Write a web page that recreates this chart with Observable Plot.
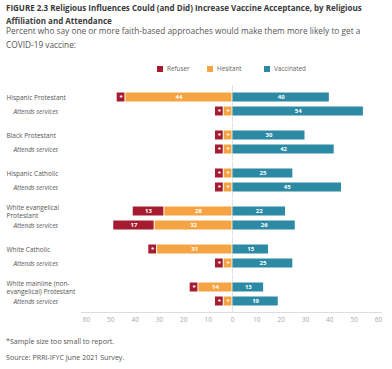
<!DOCTYPE html>
<html><head><meta charset="utf-8">
<script src="https://cdn.jsdelivr.net/npm/d3@7"></script>
<script src="https://cdn.jsdelivr.net/npm/@observablehq/plot@0.6"></script>
<style>
body{margin:0;background:#fff;font-family:"Open Sans",sans-serif;}
#wrap{position:relative;width:392px;height:369px;overflow:hidden;background:#fff}
.title{position:absolute;left:6px;top:1px;width:386px;font-weight:700;font-size:8px;line-height:13px;color:#3a3a3a;white-space:nowrap}
.sub{position:absolute;left:6px;top:24px;width:386px;font-size:8.3px;line-height:14px;color:#555;white-space:nowrap}
.legend{position:absolute;top:64px;left:0;width:392px;height:12px;font-size:6.3px;color:#666}
.legend span{position:absolute;top:0;line-height:10px}
.legend i{position:absolute;top:2px;width:6px;height:6px}
.foot{position:absolute;left:6px;font-size:7.1px;line-height:10px;color:#555;white-space:nowrap}
#chart{position:absolute;left:0;top:80px}
</style></head>
<body>
<div id="wrap">
  <div class="title">FIGURE 2.3 Religious Influences Could (and Did) Increase Vaccine Acceptance, by Religious<br>Affiliation and Attendance</div>
  <div class="sub">Percent who say one or more faith-based approaches would make them more likely to get a<br>COVID-19 vaccine:</div>
  <div class="legend" id="legend"></div>
  <div id="chart"></div>
  <div class="foot" style="top:336px">*Sample size too small to report.</div>
  <div class="foot" style="top:352px">Source: PRRI-IFYC June 2021 Survey.</div>
</div>
<script>
// ---- data ----
const groups = ["Hispanic Protestant", "Black Protestant", "Hispanic Catholic", "White evangelical Protestant", "White Catholic", "White mainline (non-evangelical) Protestant"];
const groupLabels = ["Hispanic Protestant", "Black Protestant", "Hispanic Catholic", "White evangelical\nProtestant", "White Catholic", "White mainline (non-\nevangelical) Protestant"];
const rows = ["Overall", "Attends services"];
const seriesNames = ["Refuser", "Hesitant", "Vaccinated"];
// [overall, attends services]; null = sample size too small (shown as *)
const refuser    = [[null, null], [null, null], [null, null], [13, 17], [null, null], [null, null]];
const hesitant   = [[44, null],   [null, null], [null, null], [28, 32], [31, null],   [14, null]];
const vaccinated = [[40, 54],     [30, 42],     [25, 45],     [22, 26], [15, 25],     [13, 19]];
const xTicks = [-60, -50, -40, -30, -20, -10, 0, 10, 20, 30, 40, 50, 60];
const colors = ["#a51c30", "#f6a443", "#2c8aa4"];

const STAR = 3.6; // width given to "*" boxes
const valuesBySeries = {Refuser: refuser, Hesitant: hesitant, Vaccinated: vaccinated};
const sign = {Refuser: -1, Hesitant: -1, Vaccinated: 1};
const segments = [];
groups.forEach((g, gi) => rows.forEach((r, ri) => seriesNames.forEach(s => {
  const v = valuesBySeries[s][gi][ri];
  segments.push({group: g, row: r, series: s, x: sign[s] * (v == null ? STAR : v), label: v == null ? "*" : String(v)});
})));
const stackOrder = ["Vaccinated", "Hesitant", "Refuser"];

// legend
const leg = document.getElementById("legend");
const legPos = [[157, 167], [207, 217], [264, 274]];
seriesNames.forEach((s, i) => {
  leg.insertAdjacentHTML("beforeend", `<i style="left:${legPos[i][0]}px;background:${colors[i]}"></i><span style="left:${legPos[i][1]}px">${s}</span>`);
});

const chart = Plot.plot({
  width: 392, height: 254,
  marginLeft: 86, marginRight: 14, marginTop: 2.5, marginBottom: 20,
  style: {fontFamily: "Open Sans", fontSize: "6.5px", color: "#aaa", background: "transparent"},
  x: {domain: [-60, 60], ticks: xTicks, tickFormat: d => Math.abs(d), tickSize: 0, tickPadding: 5, label: null},
  y: {domain: rows, paddingInner: 0.392, paddingOuter: 0.473, axis: null},
  fy: {domain: groups, paddingInner: 0.018, paddingOuter: 0, axis: null},
  color: {domain: seriesNames, range: colors},
  marks: [
    Plot.ruleX([0], {stroke: "#e2e2e2"}),
    Plot.frame({anchor: "bottom", facetAnchor: "bottom", stroke: "#dddddd", insetLeft: -5, insetRight: -3}),
    Plot.barX(segments, Plot.stackX({x: "x", y: "row", fy: "group", fill: "series", order: stackOrder, insetLeft: 0.5, insetRight: 0.5})),
    Plot.text(segments, Plot.stackX({x: "x", y: "row", fy: "group", z: "series", order: stackOrder, text: "label", fill: "white", fontSize: 6, fontWeight: "bold"})),
    Plot.text(groups, {fy: d => d, y: () => rows[0], text: (d, i) => groupLabels[i], frameAnchor: "left", dx: -80, textAnchor: "start", fill: "#555", fontSize: 6.5, lineHeight: 1.3}),
    Plot.text(groups, {fy: d => d, y: () => rows[1], text: () => "Attends services", frameAnchor: "left", dx: -73, textAnchor: "start", fill: "#555", fontSize: 6.4, fontStyle: "italic"})
  ]
});
document.getElementById("chart").appendChild(chart);
</script>
</body></html>
